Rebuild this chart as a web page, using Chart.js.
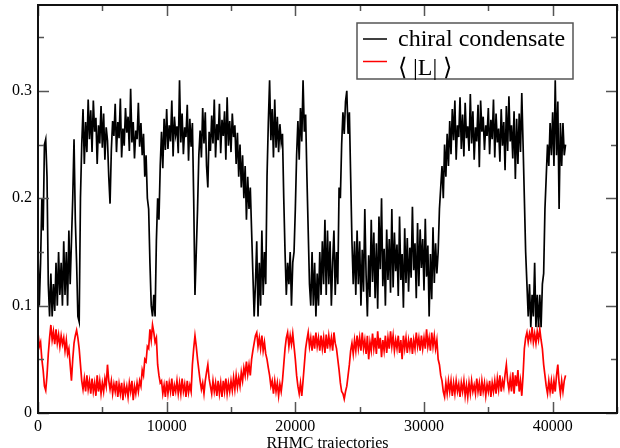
<!DOCTYPE html>
<html>
<head>
<meta charset="utf-8">
<script src="https://cdn.jsdelivr.net/npm/chart.js@4.4.0/dist/chart.umd.min.js"></script>
<style>
  body { margin: 0; background: #fff; }
  canvas { display: block; }
</style>
</head>
<body>
<canvas id="myChart" width="620" height="448"></canvas>
<script>
// trajectories sampled every 100, from 0 to 41000 (one row = 1000 trajectories)
var trajStep = 100;

var chiral = [
    0.15, 0.10, 0.14, 0.20, 0.17, 0.25, 0.255, 0.22, 0.12, 0.09,
    0.13, 0.09, 0.12, 0.095, 0.14, 0.10, 0.15, 0.11, 0.14, 0.10,
    0.16, 0.11, 0.15, 0.10, 0.17, 0.12, 0.16, 0.20, 0.255, 0.18,
    0.14, 0.09, 0.085, 0.20, 0.25, 0.283, 0.232, 0.271, 0.243, 0.292,
    0.255, 0.282, 0.243, 0.291, 0.262, 0.275, 0.232, 0.268, 0.251, 0.286,
    0.247, 0.279, 0.236, 0.266, 0.254, 0.22, 0.195, 0.245, 0.272, 0.258,
    0.288, 0.243, 0.271, 0.256, 0.293, 0.238, 0.265, 0.249, 0.284, 0.261,
    0.276, 0.244, 0.302, 0.252, 0.271, 0.237, 0.263, 0.255, 0.289, 0.248,
    0.27, 0.24, 0.26, 0.22, 0.24, 0.20, 0.19, 0.14, 0.10, 0.09,
    0.11, 0.09, 0.16, 0.20, 0.18, 0.23, 0.262, 0.228, 0.274, 0.245,
    0.283, 0.246, 0.268, 0.253, 0.291, 0.239, 0.276, 0.259, 0.267, 0.242,
    0.31, 0.252, 0.279, 0.241, 0.266, 0.257, 0.287, 0.235, 0.274, 0.248,
    0.27, 0.20, 0.11, 0.15, 0.19, 0.24, 0.263, 0.238, 0.284, 0.251,
    0.28, 0.23, 0.21, 0.262, 0.244, 0.277, 0.251, 0.292, 0.238, 0.269,
    0.254, 0.288, 0.242, 0.273, 0.258, 0.281, 0.236, 0.294, 0.249, 0.272,
    0.243, 0.279, 0.257, 0.268, 0.232, 0.261, 0.22, 0.25, 0.21, 0.24,
    0.20, 0.23, 0.18, 0.22, 0.19, 0.21, 0.17, 0.13, 0.09, 0.12,
    0.16, 0.09, 0.14, 0.10, 0.17, 0.11, 0.15, 0.12, 0.22, 0.27,
    0.31, 0.254, 0.283, 0.238, 0.292, 0.247, 0.276, 0.243, 0.269, 0.252,
    0.26, 0.20, 0.15, 0.11, 0.14, 0.12, 0.15, 0.10, 0.14, 0.15,
    0.19, 0.24, 0.272, 0.236, 0.284, 0.253, 0.31, 0.262, 0.278, 0.22,
    0.17, 0.12, 0.10, 0.15, 0.10, 0.14, 0.09, 0.13, 0.10, 0.15,
    0.11, 0.16, 0.12, 0.18, 0.11, 0.17, 0.12, 0.16, 0.10, 0.14,
    0.17, 0.11, 0.15, 0.12, 0.21, 0.20, 0.25, 0.28, 0.26, 0.29,
    0.30, 0.26, 0.28, 0.22, 0.16, 0.12, 0.16, 0.11, 0.17, 0.12,
    0.16, 0.10, 0.152, 0.113, 0.19, 0.128, 0.09, 0.147, 0.108, 0.18,
    0.122, 0.168, 0.107, 0.158, 0.097, 0.183, 0.134, 0.20, 0.118, 0.153,
    0.10, 0.171, 0.124, 0.162, 0.112, 0.19, 0.117, 0.168, 0.132, 0.157,
    0.109, 0.183, 0.124, 0.148, 0.098, 0.172, 0.121, 0.163, 0.113, 0.154,
    0.126, 0.192, 0.133, 0.158, 0.107, 0.177, 0.118, 0.171, 0.135, 0.162,
    0.114, 0.181, 0.127, 0.156, 0.09, 0.148, 0.106, 0.173, 0.121, 0.158,
    0.13, 0.15, 0.19, 0.21, 0.23, 0.20, 0.25, 0.22, 0.26, 0.23,
    0.272, 0.241, 0.283, 0.254, 0.291, 0.236, 0.268, 0.257, 0.294, 0.246,
    0.278, 0.239, 0.289, 0.256, 0.267, 0.244, 0.297, 0.251, 0.281, 0.236,
    0.266, 0.253, 0.287, 0.229, 0.291, 0.262, 0.276, 0.245, 0.268, 0.258,
    0.284, 0.241, 0.273, 0.255, 0.292, 0.238, 0.279, 0.252, 0.265, 0.234,
    0.283, 0.249, 0.271, 0.226, 0.286, 0.244, 0.295, 0.253, 0.268, 0.237,
    0.281, 0.218, 0.274, 0.232, 0.279, 0.243, 0.298, 0.25, 0.20, 0.15,
    0.12, 0.09, 0.12, 0.08, 0.11, 0.09, 0.14, 0.08, 0.11, 0.08,
    0.11, 0.08, 0.12, 0.13, 0.19, 0.22, 0.25, 0.23, 0.27, 0.24,
    0.28, 0.23, 0.31, 0.24, 0.29, 0.19, 0.27, 0.23, 0.27, 0.24,
    0.25
];

var polyakov = [
    0.075, 0.062, 0.066, 0.05, 0.04, 0.025, 0.021, 0.035, 0.055, 0.07,
    0.082, 0.068, 0.076, 0.064, 0.078, 0.065, 0.073, 0.062, 0.072, 0.064,
    0.07, 0.058, 0.068, 0.055, 0.06, 0.045, 0.03, 0.05, 0.065, 0.072,
    0.077, 0.07, 0.06, 0.045, 0.03, 0.022, 0.032, 0.02, 0.035, 0.022,
    0.03, 0.018, 0.032, 0.02, 0.028, 0.016, 0.035, 0.02, 0.03, 0.018,
    0.028, 0.02, 0.032, 0.025, 0.045, 0.03, 0.022, 0.03, 0.018, 0.027,
    0.02, 0.03, 0.015, 0.027, 0.018, 0.028, 0.012, 0.026, 0.018, 0.025,
    0.015, 0.028, 0.02, 0.03, 0.012, 0.025, 0.018, 0.028, 0.02, 0.03,
    0.025, 0.04, 0.035, 0.05, 0.048, 0.062, 0.06, 0.078, 0.068, 0.082,
    0.075, 0.066, 0.07, 0.045, 0.035, 0.028, 0.03, 0.018, 0.026, 0.015,
    0.03, 0.018, 0.028, 0.02, 0.032, 0.016, 0.026, 0.02, 0.03, 0.018,
    0.028, 0.018, 0.032, 0.02, 0.027, 0.015, 0.03, 0.019, 0.026, 0.02,
    0.045, 0.06, 0.072, 0.062, 0.05, 0.04, 0.03, 0.022, 0.028, 0.018,
    0.03, 0.038, 0.045, 0.032, 0.025, 0.018, 0.03, 0.02, 0.028, 0.016,
    0.03, 0.018, 0.028, 0.015, 0.03, 0.02, 0.032, 0.018, 0.028, 0.02,
    0.03, 0.021, 0.033, 0.022, 0.035, 0.024, 0.033, 0.025, 0.038, 0.03,
    0.042, 0.035, 0.048, 0.036, 0.045, 0.035, 0.05, 0.058, 0.065, 0.072,
    0.075, 0.062, 0.07, 0.06, 0.072, 0.058, 0.066, 0.055, 0.05, 0.042,
    0.035, 0.025, 0.03, 0.018, 0.03, 0.02, 0.028, 0.016, 0.027, 0.02,
    0.03, 0.045, 0.06, 0.07, 0.075, 0.062, 0.072, 0.064, 0.074, 0.062,
    0.05, 0.035, 0.025, 0.018, 0.028, 0.016, 0.03, 0.045, 0.06, 0.068,
    0.075, 0.062, 0.07, 0.058, 0.072, 0.06, 0.075, 0.062, 0.07, 0.058,
    0.072, 0.06, 0.07, 0.056, 0.073, 0.06, 0.072, 0.062, 0.07, 0.058,
    0.075, 0.065, 0.06, 0.05, 0.04, 0.028, 0.02, 0.018, 0.013, 0.02,
    0.025, 0.035, 0.045, 0.058, 0.065, 0.055, 0.068, 0.058, 0.072, 0.06,
    0.07, 0.058, 0.075, 0.06, 0.068, 0.055, 0.072, 0.05, 0.066, 0.058,
    0.074, 0.06, 0.07, 0.055, 0.076, 0.06, 0.07, 0.052, 0.068, 0.058,
    0.072, 0.056, 0.07, 0.06, 0.076, 0.062, 0.072, 0.058, 0.068, 0.06,
    0.072, 0.056, 0.068, 0.05, 0.072, 0.06, 0.07, 0.056, 0.068, 0.06,
    0.07, 0.055, 0.068, 0.06, 0.075, 0.062, 0.07, 0.058, 0.072, 0.06,
    0.07, 0.06, 0.078, 0.062, 0.07, 0.058, 0.075, 0.062, 0.072, 0.06,
    0.068, 0.05, 0.045, 0.035, 0.03, 0.02, 0.015, 0.028, 0.018, 0.03,
    0.02, 0.03, 0.016, 0.028, 0.018, 0.03, 0.02, 0.027, 0.015, 0.028,
    0.02, 0.03, 0.016, 0.026, 0.015, 0.028, 0.018, 0.03, 0.02, 0.026,
    0.018, 0.032, 0.02, 0.028, 0.016, 0.03, 0.02, 0.028, 0.016, 0.027,
    0.02, 0.03, 0.015, 0.028, 0.02, 0.03, 0.018, 0.032, 0.022, 0.035,
    0.02, 0.03, 0.024, 0.036, 0.045, 0.03, 0.022, 0.032, 0.02, 0.038,
    0.018, 0.035, 0.025, 0.04, 0.02, 0.03, 0.016, 0.035, 0.06, 0.07,
    0.075, 0.066, 0.074, 0.068, 0.08, 0.066, 0.074, 0.065, 0.076, 0.068,
    0.078, 0.068, 0.06, 0.045, 0.035, 0.025, 0.018, 0.03, 0.02, 0.03,
    0.018, 0.03, 0.02, 0.035, 0.045, 0.028, 0.018, 0.03, 0.02, 0.03,
    0.035
];

var seriesLabels = ['chiral condensate', '\u27E8 |L| \u27E9'];
var xMax = 45000, yMax = 0.38;

function toPoints(vals) {
    return vals.map(function (v, i) { return { x: i * trajStep, y: v }; });
}

var serif = "'Liberation Serif', 'Times New Roman', serif";
Chart.defaults.font.family = serif;
Chart.defaults.color = '#000';

// xmgrace style frame, inward ticks on all sides, boxed legend
var gracePlugin = {
    id: 'grace',
    afterDraw: function (chart) {
        var ctx = chart.ctx, a = chart.chartArea;
        var x = chart.scales.x, y = chart.scales.y;
        ctx.save();
        ctx.strokeStyle = '#555';
        ctx.lineWidth = 1.5;
        ctx.beginPath();
        for (var t = 0; t <= xMax; t += 5000) {
            var px = Math.round(x.getPixelForValue(t)) + 0.5;
            var len = t % 10000 === 0 ? 11 : 6;
            ctx.moveTo(px, a.bottom); ctx.lineTo(px, a.bottom - len);
            ctx.moveTo(px, a.top); ctx.lineTo(px, a.top + len);
        }
        for (var k = 0; k * 0.05 <= yMax; k++) {
            var py = Math.round(y.getPixelForValue(k * 0.05)) + 0.5;
            var l2 = k % 2 === 0 ? 11 : 6;
            ctx.moveTo(a.left, py); ctx.lineTo(a.left + l2, py);
            ctx.moveTo(a.right, py); ctx.lineTo(a.right - l2, py);
        }
        ctx.stroke();

        ctx.strokeStyle = '#111';
        ctx.lineWidth = 2;
        ctx.strokeRect(a.left, a.top, a.right - a.left, a.bottom - a.top);

        // legend box
        ctx.fillStyle = '#fff';
        ctx.fillRect(357, 23, 216, 56);
        ctx.strokeStyle = '#555';
        ctx.lineWidth = 1.5;
        ctx.strokeRect(357, 23, 216, 56);
        var colors = ['#000', '#ff0000'];
        var lineY = [39, 61.5], textY = [45.5, 75];
        ctx.font = '24px ' + serif;
        ctx.textBaseline = 'alphabetic';
        ctx.textAlign = 'left';
        for (var i = 0; i < 2; i++) {
            ctx.strokeStyle = colors[i];
            ctx.lineWidth = 1.5;
            ctx.beginPath();
            ctx.moveTo(363, lineY[i]); ctx.lineTo(387, lineY[i]);
            ctx.stroke();
            ctx.fillStyle = '#000';
            ctx.fillText(seriesLabels[i], 398, textY[i]);
        }
        ctx.restore();
    }
};

var chart = new Chart(document.getElementById('myChart').getContext('2d'), {
    type: 'line',
    data: {
        datasets: [{
            label: seriesLabels[0],
            data: toPoints(chiral),
            borderColor: '#000',
            borderWidth: 1.7,
            pointRadius: 0,
            tension: 0
        }, {
            label: seriesLabels[1],
            data: toPoints(polyakov),
            borderColor: '#ff0000',
            borderWidth: 1.7,
            pointRadius: 0,
            tension: 0
        }]
    },
    options: {
        responsive: false,
        animation: false,
        layout: { padding: { top: 5, right: 3, left: 0, bottom: 0 } },
        plugins: {
            legend: { display: false },
            tooltip: { enabled: false }
        },
        scales: {
            x: {
                type: 'linear',
                min: 0,
                max: xMax,
                grid: { display: false, drawTicks: false },
                border: { display: false },
                ticks: {
                    stepSize: 5000,
                    autoSkip: false,
                    maxRotation: 0,
                    padding: 4,
                    font: { size: 16 },
                    callback: function (v) { return v % 10000 === 0 ? String(v) : ''; }
                },
                title: {
                    display: true,
                    text: 'RHMC trajectories',
                    font: { size: 16 },
                    padding: { top: 0, bottom: -5 }
                },
                afterFit: function (s) {
                    s.height = 35;
                    s.paddingLeft = 0;
                    s.paddingRight = 0;
                }
            },
            y: {
                min: 0,
                max: yMax,
                grid: { display: false, drawTicks: false },
                border: { display: false },
                ticks: {
                    stepSize: 0.05,
                    autoSkip: false,
                    padding: 6,
                    font: { size: 16 },
                    callback: function (v) {
                        var k = Math.round(v * 100);
                        if (k % 10 !== 0) return '';
                        return k === 0 ? '0' : String(k / 100);
                    }
                },
                afterFit: function (s) {
                    s.width = 38;
                    s.paddingTop = 0;
                    s.paddingBottom = 0;
                }
            }
        }
    },
    plugins: [gracePlugin]
});
</script>
</body>
</html>
